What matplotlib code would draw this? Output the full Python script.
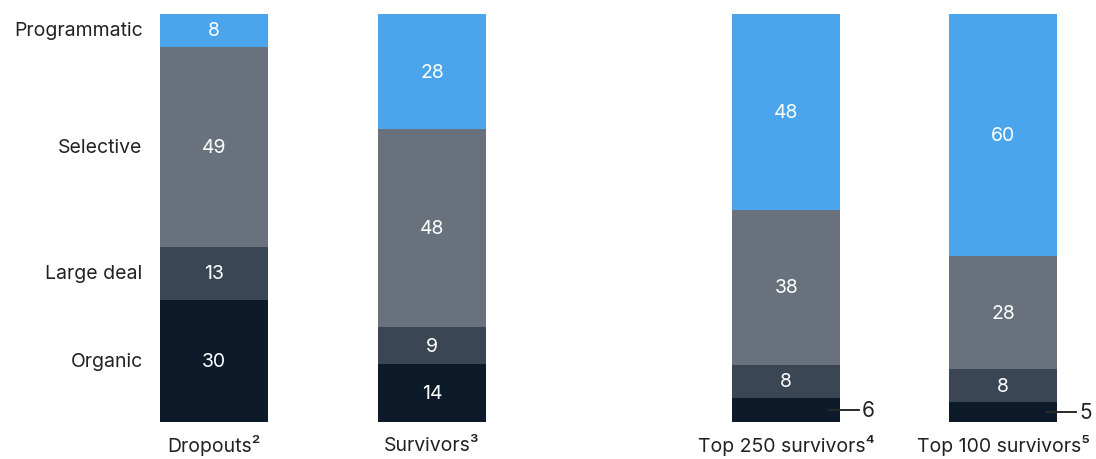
import matplotlib.pyplot as plt
import numpy as np

# Share of deal types by group of companies, %
groups = ["Dropouts²", "Survivors³", "Top 250 survivors⁴", "Top 100 survivors⁵"]
segments = ["Organic", "Large deal", "Selective", "Programmatic"]
organic = [30, 14, 6, 5]
large_deal = [13, 9, 8, 8]
selective = [49, 48, 38, 28]
programmatic = [8, 28, 48, 60]

colors = ["#0d1a29", "#3a4654", "#69717c", "#4aa5ec"]
plt.rcParams["font.family"] = ["Inter", "DejaVu Sans"]

values = np.array([organic, large_deal, selective, programmatic], dtype=float)
shares = values / values.sum(axis=0)  # each bar fills the full height

# second pair of bars sits further right
xpos = np.array([0, 1, 2.625, 3.62])
width = 0.495
fs = 14

fig = plt.figure(figsize=(10.96, 4.6), dpi=100)
ax = fig.add_axes([0, 0.0804, 1, 0.887])
ax.set_xlim(-0.982, 4.046)
ax.set_ylim(0, 1)
ax.axis("off")

bottom = np.zeros(len(groups))
for i, seg in enumerate(segments):
    ax.bar(xpos, shares[i], width, bottom=bottom, color=colors[i], linewidth=0)
    for j in range(len(groups)):
        centre = bottom[j] + shares[i][j] / 2
        val = int(values[i][j])
        if shares[i][j] < 0.07:
            # small segment: value to the right with a leader line
            x0 = xpos[j] + width / 2 - 0.05
            x1 = xpos[j] + width / 2 + 0.085
            ax.plot([x0, x1], [centre, centre], color="#2a2a2a", lw=1.4)
            ax.text(x1 + 0.015, centre, str(val), ha="left", va="center",
                    fontsize=fs + 1, color="#222222")
        else:
            ax.text(xpos[j], centre, str(val), ha="center", va="center",
                    fontsize=fs, color="white")
    # segment names next to the first bar
    ax.text(xpos[0] - width / 2 - 0.08, bottom[0] + shares[i][0] / 2, seg,
            ha="right", va="center", fontsize=fs, color="#222222")
    bottom += shares[i]

for x, g in zip(xpos, groups):
    ax.text(x, -0.056, g, ha="center", va="center", fontsize=fs, color="#222222")

fig.savefig("out.png", dpi=100)
